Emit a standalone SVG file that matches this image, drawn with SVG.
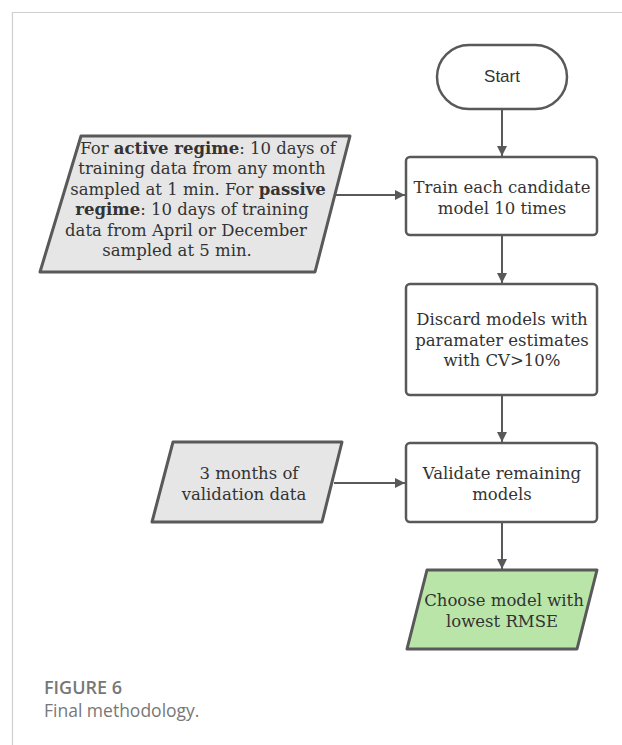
<svg xmlns="http://www.w3.org/2000/svg" width="622" height="745" viewBox="0 0 622 745">
<defs>
<marker id="ah" viewBox="0 0 10 13" refX="10" refY="6.5" markerWidth="10" markerHeight="13" markerUnits="userSpaceOnUse" orient="auto">
<path d="M0,1.5 L10,6.5 L0,11.5 z" fill="#595959"/>
</marker>
<style>
.box{fill:#fff;stroke:#595959;stroke-width:2.5;stroke-linejoin:round}
.inp{fill:#e6e6e6;stroke:#595959;stroke-width:3;stroke-linejoin:round}
.out{fill:#b9e6a8;stroke:#595959;stroke-width:3;stroke-linejoin:round}
.t{font-family:"DejaVu Serif","Liberation Serif",serif;font-size:16.5px;fill:#333;text-anchor:middle}
.s{font-family:"Liberation Sans",Arial,sans-serif;font-size:17px;fill:#333;text-anchor:middle}
.c{stroke:#595959;stroke-width:2;fill:none;marker-end:url(#ah)}
.cap{font-family:"Open Sans","Liberation Sans",sans-serif;fill:#777}
</style>
</defs>
<rect width="622" height="745" fill="#fff"/>
<path d="M12.5,745 V12.5 H622" fill="none" stroke="#cfcfcf" stroke-width="1.2"/>
<g id="connectors">
<line class="c" x1="502" y1="109" x2="502" y2="156"/>
<line class="c" x1="333" y1="195" x2="405" y2="195"/>
<line class="c" x1="502" y1="235" x2="502" y2="283"/>
<line class="c" x1="502" y1="395" x2="502" y2="442"/>
<line class="c" x1="334" y1="483" x2="405" y2="483"/>
<line class="c" x1="502" y1="522" x2="502" y2="569"/>
</g>
<g id="start">
<rect class="box" x="437" y="45" width="130" height="64" rx="32" ry="32"/>
<text class="s" x="502" y="82">Start</text>
</g>
<g id="train">
<rect class="box" x="406" y="157" width="191" height="78" rx="4"/>
<text class="t" x="502" y="193">Train each candidate</text>
<text class="t" x="502" y="214">model  10 times</text>
</g>
<g id="input1">
<path class="inp" d="M81,136 H350 L315,272 H40 Z"/>
<text class="t" x="208" y="154"><tspan>For </tspan><tspan font-weight="bold">active regime</tspan><tspan>: 10 days of</tspan></text>
<text class="t" x="202" y="174">training data from any month</text>
<text class="t" x="198" y="195"><tspan>sampled at 1 min. For </tspan><tspan font-weight="bold">passive</tspan></text>
<text class="t" x="192" y="215"><tspan font-weight="bold">regime</tspan><tspan>: 10 days of training</tspan></text>
<text class="t" x="186" y="236">data from April or December</text>
<text class="t" x="177" y="256">sampled at 5 min.</text>
</g>
<g id="discard">
<rect class="box" x="406" y="284" width="191" height="111" rx="4"/>
<text class="t" x="502" y="325">Discard models with</text>
<text class="t" x="502" y="346">paramater estimates</text>
<text class="t" x="502" y="366">with CV&gt;10%</text>
</g>
<g id="validation-data">
<path class="inp" d="M173,442 H342 L322,522 H152 Z"/>
<text class="t" x="249" y="479">3 months of</text>
<text class="t" x="244" y="500">validation data</text>
</g>
<g id="validate">
<rect class="box" x="406" y="443" width="191" height="79" rx="4"/>
<text class="t" x="502" y="479">Validate remaining</text>
<text class="t" x="502" y="500">models</text>
</g>
<g id="choose">
<path class="out" d="M427,570 H597 L577,649 H407 Z"/>
<text class="t" x="504" y="606">Choose model with</text>
<text class="t" x="502" y="627">lowest RMSE</text>
</g>
<text class="cap" x="44" y="694" font-size="18" font-weight="600">FIGURE 6</text>
<text class="cap" x="44" y="717" font-size="17.5">Final methodology.</text>
</svg>
